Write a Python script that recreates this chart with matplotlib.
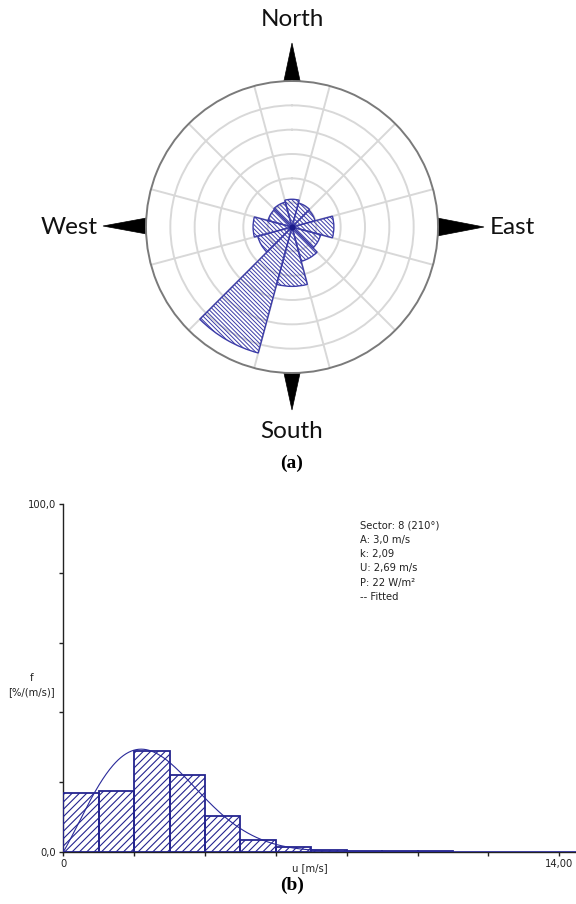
import numpy as np
import matplotlib
matplotlib.use("Agg")
import matplotlib.pyplot as plt
from matplotlib.patches import Polygon

# ---- Wind rose: 12 sectors of 30 degrees, frequency per sector (%) ----
sector_centers_deg = [0, 30, 60, 90, 120, 150, 180, 210, 240, 270, 300, 330]
sector_freq = [5.7, 5.1, 4.9, 8.6, 6.1, 7.3, 12.2, 26.8, 7.3, 8.0, 5.1, 5.3]
rose_rings = [5, 10, 15, 20, 25]
rose_rmax = 30
compass_labels = ["North", "East", "South", "West"]

# ---- Sector 8 wind speed histogram (1 m/s bins) ----
bin_left = [0, 1, 2, 3, 4, 5, 6, 7, 8, 9, 10]
bin_freq = [16.8, 17.5, 29.0, 22.0, 10.3, 3.4, 1.3, 0.5, 0.2, 0.15, 0.15]
weibull_A = 3.0
weibull_k = 2.09
info_lines = ["Sector: 8 (210\u00b0)", "A: 3,0 m/s", "k: 2,09",
              "U: 2,69 m/s", "P: 22 W/m\u00b2", "-- Fitted"]
x_tick_vals = [0, 2, 4, 6, 8, 10, 12, 14]
x_tick_text = ["0", "", "", "", "", "", "", "14,00"]
y_tick_vals = [0, 100]
y_tick_text = ["0,0", "100,0"]
y_minor_vals = [20, 40, 60, 80]

W, H = 576, 904
DPI = 88
S = 100 / DPI  # keeps sizes expressed for a 100 dpi canvas

plt.rcParams["hatch.linewidth"] = 0.8 * S
fig = plt.figure(figsize=(W / DPI, H / DPI), dpi=DPI)
fig.patch.set_facecolor("white")


def fx(px):
    return px / W


def fy(py):
    return 1 - py / H


# overlay in pixel coordinates for compass decorations and captions
ov = fig.add_axes([0, 0, 1, 1])
ov.set_xlim(0, W)
ov.set_ylim(H, 0)
ov.axis("off")

cx, cy, R = 292, 227, 146
arrow_specs = [
    [(292, 43), (282, 90), (302, 90)],      # north
    [(484, 227), (432, 217), (432, 237)],   # east
    [(292, 410), (282, 364), (302, 364)],   # south
    [(103, 226), (152, 217), (152, 235)],   # west
]
for pts in arrow_specs:
    ov.add_patch(Polygon(pts, closed=True, facecolor="black", edgecolor="black", lw=0.5 * S))

label_pos = [(292, 20), (512, 227), (292, 432), (69, 227)]
for txt, (lx, ly) in zip(compass_labels, label_pos):
    ov.text(lx, ly, txt, ha="center", va="center", fontsize=17.5 * S,
            family=["Lato", "DejaVu Sans"], color="#111111")

ov.text(292, 463, "(a)", ha="center", va="center", fontsize=14 * S,
        family=["Liberation Serif"], fontweight="bold")
ov.text(292, 885, "(b)", ha="center", va="center", fontsize=14 * S,
        family=["Liberation Serif"], fontweight="bold")

# ---- polar rose ----
axp = fig.add_axes([fx(cx - R), fy(cy + R), 2 * R / W, 2 * R / H], projection="polar")
axp.set_theta_zero_location("N")
axp.set_theta_direction(-1)
axp.set_facecolor("white")
axp.set_ylim(0, rose_rmax)
axp.set_rgrids(rose_rings, labels=[""] * len(rose_rings))
axp.set_thetagrids(np.arange(15, 360, 30), labels=[""] * 12)
axp.grid(True, color="#d8d8d8", lw=1.4 * S)
axp.spines["polar"].set_color("#7a7a7a")
axp.spines["polar"].set_linewidth(1.4 * S)
axp.tick_params(length=0)

theta = np.deg2rad(sector_centers_deg)
rose = axp.bar(theta, sector_freq, width=np.deg2rad(30), bottom=0, fill=False,
               hatch="\\" * 7, edgecolor="#3c3ca8", linewidth=1.0 * S, zorder=3)
for p in rose:
    if hasattr(p, "set_hatch_linewidth"):
        p.set_hatch_linewidth(0.7 * S)
axp.plot([0], [0], marker="o", ms=3.5 * S, color="#1a1a8a", zorder=4)

# ---- histogram ----
axh = fig.add_axes([fx(63.3), fy(851.7), (W - 63.3) / W, 348.2 / H])
axh.set_facecolor("none")
bars = axh.bar(bin_left, bin_freq, width=1.0, align="edge", fill=False, hatch="////",
               edgecolor="#24248f", linewidth=1.3 * S, zorder=3)
for p in bars:
    if hasattr(p, "set_hatch_linewidth"):
        p.set_hatch_linewidth(0.8 * S)

u = np.linspace(0, 14.5, 600)
pdf = (weibull_k / weibull_A) * (u / weibull_A) ** (weibull_k - 1) * np.exp(-(u / weibull_A) ** weibull_k)
axh.plot(u, pdf * 100, color="#2a2a9a", lw=0.8 * S, zorder=4)

axh.set_xlim(0, 14.47)
axh.set_ylim(0, 100)
for s in ["top", "right"]:
    axh.spines[s].set_visible(False)
for s in ["left", "bottom"]:
    axh.spines[s].set_color("#222222")
    axh.spines[s].set_linewidth(1.0 * S)

axh.set_xticks(x_tick_vals)
axh.set_xticklabels(x_tick_text)
axh.set_yticks(y_tick_vals)
axh.set_yticklabels(y_tick_text)
axh.set_yticks(y_minor_vals, minor=True)
axh.tick_params(axis="both", which="both", length=3 * S, width=1 * S, color="#222222",
                labelsize=7.2 * S, pad=2.5 * S, labelcolor="#222222")

axh.text(6.96, -3.2, "u [m/s]", ha="center", va="top", fontsize=7.2 * S, color="#222222",
         transform=axh.transData)

fig.text(fx(31.7), fy(678), "f", ha="center", va="center", fontsize=7.2 * S, color="#222222")
fig.text(fx(31.7), fy(692), "[%/(m/s)]", ha="center", va="center", fontsize=7.2 * S, color="#222222")

for i, line in enumerate(info_lines):
    fig.text(fx(360), fy(525 + i * 14.5), line, ha="left", va="center",
             fontsize=7.2 * S, color="#222222")

fig.savefig("out.png", dpi=DPI, facecolor="white")
